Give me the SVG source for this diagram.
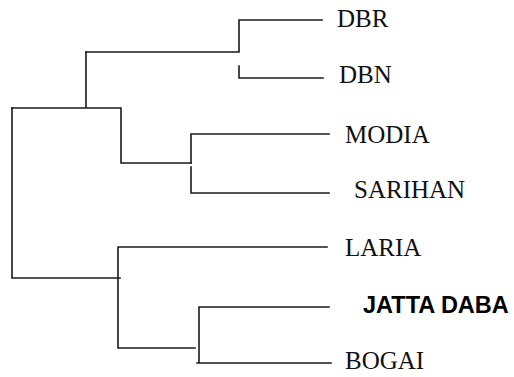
<svg xmlns="http://www.w3.org/2000/svg" width="514" height="377" viewBox="0 0 514 377">
<style>
.c{fill:none;stroke:#1a1a1a;stroke-width:1.6;stroke-linecap:square}
.t{font-family:"Liberation Serif","Times New Roman",serif;font-size:25px;fill:#111}
.b{font-family:"Liberation Sans",Arial,sans-serif;font-size:23.5px;font-weight:bold;fill:#000}
</style>
<rect width="514" height="377" fill="#fff"/>
<g id="connectors" class="c">
<path d="M239,20 H322 M239,20 V52 M86,52 H239 M239,66 V78 H323"/>
<path d="M86,52 V108 M12,108 H121 M121,108 V163 H191"/>
<path d="M191,134 V163 M191,134 H329 M191,167 V193 H329"/>
<path d="M12,108 V278 H120"/>
<path d="M118,247 H327 M118,247 V348 H195"/>
<path d="M199,307 H329 M199,307 V363 M197,363 H331"/>
</g>
<g id="DBR"><text class="t" x="337" y="27">DBR</text></g>
<g id="DBN"><text class="t" x="339" y="83">DBN</text></g>
<g id="MODIA"><text class="t" x="345" y="143">MODIA</text></g>
<g id="SARIHAN"><text class="t" x="354" y="198">SARIHAN</text></g>
<g id="LARIA"><text class="t" x="345" y="256">LARIA</text></g>
<g id="JATTA_DABA"><text class="b" x="363" y="313">JATTA DABA</text></g>
<g id="BOGAI"><text class="t" x="345" y="369">BOGAI</text></g>
</svg>
